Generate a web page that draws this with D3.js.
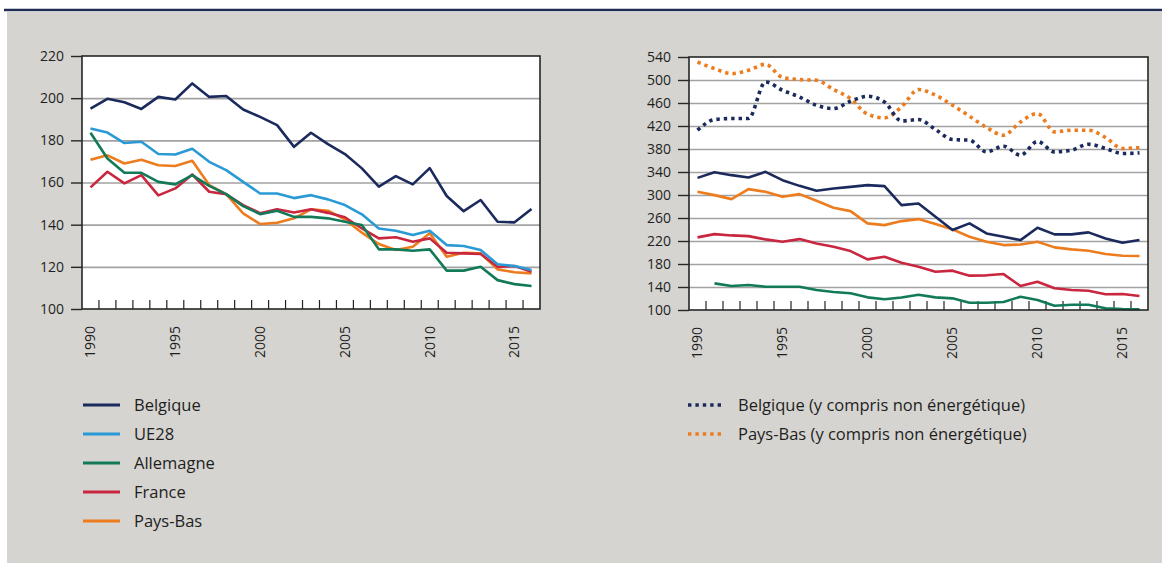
<!DOCTYPE html>
<html>
<head>
<meta charset="utf-8">
<script src="https://cdn.jsdelivr.net/npm/d3@7"></script>
<style>
  body { margin: 0; background: #fff; }
  svg text { font-family: "Open Sans", "Noto Sans", sans-serif; fill: #1e1e1e; }
</style>
</head>
<body>
<svg id="chart" width="1162" height="563"></svg>
<script>
// années 1990 → 2016
const years = [1990,1991,1992,1993,1994,1995,1996,1997,1998,1999,2000,2001,2002,2003,
  2004,2005,2006,2007,2008,2009,2010,2011,2012,2013,2014,2015,2016];
const yearLabels = [1990, 1995, 2000, 2005, 2010, 2015];

// graphique de gauche
const leftTicks = [100, 120, 140, 160, 180, 200, 220];
const belgique = [195,199.7,198.1,194.9,200.6,199.4,207,200.6,201,194.6,191.1,187.2,176.9,183.6,
  178.2,173.5,166.7,158,163,159.1,166.8,153.6,146.4,151.7,141.4,141.1,147.4];
const ue28 = [185.6,183.7,178.7,179.3,173.5,173.3,176,169.8,165.9,160.3,154.8,154.8,152.6,154,
  152,149.3,144.9,138.2,137.1,135.1,137.1,130.3,129.9,128,121.2,120.4,118.5];
const allemagne = [183.6,171.4,164.6,164.6,160.3,159.1,163.5,158.4,154.5,148.8,145,146.6,143.7,143.7,
  143,141.4,139.8,128.3,128.3,127.6,128.3,118.2,118.2,120,113.7,111.8,110.9];
const france = [157.7,165.1,159.6,163.5,153.9,157.2,163.8,155.6,154.4,149.3,145.4,147.3,145.8,147.3,
  145.6,143.5,138.2,133.5,134,131.9,133.5,126.7,126.4,126.1,120,120.4,117.7];
const paysBas = [170.8,172.9,169,170.8,168.2,167.8,170.3,158.8,154.5,145.4,140.3,140.9,143,147.3,
  146.6,142.5,136.2,130.8,128,129.5,135.9,124.8,126.7,126.4,118.8,117.4,116.9];

// graphique de droite
const rightTicks = [100,140,180,220,260,300,340,380,420,460,500,540];
const belgiqueR = [329.8,339.7,334.5,330.5,340.3,325.8,315.9,307.3,311.4,314.2,317.1,315.4,282.4,285.3,
  262.1,239,250.6,233.2,227.3,221.6,243,231.5,231.5,235,224.5,216.9,221.6];
const paysBasR = [305.5,299.8,292.8,310.2,305.5,296.8,301.5,289.9,277.7,272,250.6,247.6,254.6,258.1,
  249.4,240.2,227.4,218.7,212.9,213.8,218.7,208.9,205.4,203,197.3,194.4,193.8];
const franceR = [226.3,232,229.7,228.5,222.8,218.7,223.3,215.8,210,202.5,188.1,192.6,182.2,175.3,
  166.6,168.4,159.7,160.3,162.5,141.7,149.2,137.7,134.7,133.6,127.3,127.8,124.3];
const allemagneR = [null,146.3,141.7,143.4,140.5,140.5,140.5,134.7,131.3,129,122,118.6,121.6,126.6,
  122,120.3,112.7,112.7,113.9,123.1,117.4,107.5,109.2,109.2,102.9,101.7,101.2];
const belgiqueTotal = [412.7,431.2,433,433,496.6,482.1,470.5,456.1,450.3,463,471.7,461.8,428.8,431.2,
  413.9,396.5,395.3,375,384.9,369.2,393.1,375,377.9,388.3,380.9,372.2,373.2];
const paysBasTotal = [531.3,519.8,511.1,516.8,527.3,504.2,500.7,499.5,483.4,467.7,440.5,434.1,453.2,483.4,
  473.5,456.1,437,417.4,404,427.1,441.7,409.8,412.7,412.7,400,380.9,382.6];

const COL = { bel: '#1b2a5c', ue: '#2a9ad6', all: '#127a58', fra: '#c9263f', nl: '#ec7c1e' };

const svg = d3.select('#chart');

// fond : filet bleu en haut + panneau gris
svg.append('line').attr('x1', 4).attr('x2', 1162).attr('y1', 10).attr('y2', 10)
  .attr('stroke', '#1f2d55').attr('stroke-width', 2.5);
svg.append('rect').attr('x', 7).attr('y', 11.5).attr('width', 1155).attr('height', 552)
  .attr('fill', '#d5d4d0');

function panel(o) {
  const g = svg.append('g');
  const x = d3.scaleBand().domain(years).range([o.x0, o.x1]);
  const y = d3.scaleLinear().domain([o.ticks[0], o.ticks[o.ticks.length - 1]]).range([o.y1, o.y0]);
  const cx = d => x(d) + x.bandwidth() / 2;

  g.append('rect').attr('x', o.x0).attr('y', o.y0)
    .attr('width', o.x1 - o.x0).attr('height', o.y1 - o.y0).attr('fill', '#fff');

  // grille
  g.append('g').attr('transform', `translate(${o.x0},0)`)
    .call(d3.axisLeft(y).tickValues(o.ticks.slice(1, -1)).tickSize(-(o.x1 - o.x0)).tickFormat(''))
    .call(a => a.select('.domain').remove())
    .call(a => a.selectAll('line').attr('stroke', '#a2a2a2').attr('stroke-width', 1.6));

  // petits traits verticaux entre les années
  g.append('g').selectAll('line').data(years.slice(1)).join('line')
    .attr('x1', d => x(d)).attr('x2', d => x(d))
    .attr('y1', o.y1).attr('y2', o.y1 - 9)
    .attr('stroke', '#222').attr('stroke-width', 1.2);

  // séries
  o.series.forEach(s => {
    const line = d3.line()
      .defined(d => d != null)
      .x((d, i) => cx(years[i]))
      .y(d => y(d))
      .curve(s.dotted ? d3.curveMonotoneX : d3.curveLinear);
    g.append('path').datum(s.values)
      .attr('fill', 'none').attr('stroke', s.color)
      .attr('stroke-width', s.dotted ? 3.6 : 2.6)
      .attr('stroke-linejoin', 'round')
      .attr('stroke-dasharray', s.dotted ? '3.4,4' : null)
      .attr('d', line);
  });

  // cadre
  g.append('rect').attr('x', o.x0).attr('y', o.y0)
    .attr('width', o.x1 - o.x0).attr('height', o.y1 - o.y0)
    .attr('fill', 'none').attr('stroke', '#262626').attr('stroke-width', 1.6);

  // axe Y
  const ay = g.append('g').attr('transform', `translate(${o.x0},0)`)
    .call(d3.axisLeft(y).tickValues(o.ticks).tickSize(11).tickPadding(7));
  ay.select('.domain').remove();
  ay.selectAll('line').attr('stroke', '#262626').attr('stroke-width', 1.4);
  ay.selectAll('text').attr('font-size', 14).attr('fill', '#1e1e1e');

  // axe X : étiquettes verticales
  const ax = g.append('g').attr('transform', `translate(0,${o.y1})`)
    .call(d3.axisBottom(x).tickValues(yearLabels).tickSize(0).tickFormat(d3.format('d')));
  ax.select('.domain').remove();
  ax.selectAll('text')
    .attr('font-size', 14).attr('fill', '#1e1e1e')
    .attr('transform', 'rotate(-90)')
    .attr('text-anchor', 'end')
    .attr('x', -17).attr('y', 0).attr('dy', '0.35em');

  return g;
}

panel({
  x0: 82, x1: 540, y0: 56, y1: 309, ticks: leftTicks,
  series: [
    { values: paysBas, color: COL.nl },
    { values: france, color: COL.fra },
    { values: allemagne, color: COL.all },
    { values: ue28, color: COL.ue },
    { values: belgique, color: COL.bel }
  ]
});

panel({
  x0: 689, x1: 1148, y0: 57, y1: 310, ticks: rightTicks,
  series: [
    { values: allemagneR, color: COL.all },
    { values: franceR, color: COL.fra },
    { values: paysBasR, color: COL.nl },
    { values: belgiqueR, color: COL.bel },
    { values: paysBasTotal, color: COL.nl, dotted: true },
    { values: belgiqueTotal, color: COL.bel, dotted: true }
  ]
});

// légendes
const legendLeft = [
  { label: 'Belgique', color: COL.bel },
  { label: 'UE28', color: COL.ue },
  { label: 'Allemagne', color: COL.all },
  { label: 'France', color: COL.fra },
  { label: 'Pays-Bas', color: COL.nl }
];
const legendRight = [
  { label: 'Belgique (y compris non énergétique)', color: COL.bel },
  { label: 'Pays-Bas (y compris non énergétique)', color: COL.nl }
];

const lgL = svg.append('g').selectAll('g').data(legendLeft).join('g')
  .attr('transform', (d, i) => `translate(83,${405 + i * 29})`);
lgL.append('line').attr('x1', 0).attr('x2', 37)
  .attr('stroke', d => d.color).attr('stroke-width', 2.8);
lgL.append('text').attr('x', 51).attr('dy', '0.35em').attr('font-size', 16.5).text(d => d.label);

const lgR = svg.append('g').selectAll('g').data(legendRight).join('g')
  .attr('transform', (d, i) => `translate(688,${405 + i * 29})`);
lgR.append('line').attr('x1', 0).attr('x2', 35)
  .attr('stroke', d => d.color).attr('stroke-width', 3.6).attr('stroke-dasharray', '3.4,4');
lgR.append('text').attr('x', 50).attr('dy', '0.35em').attr('font-size', 16.5).text(d => d.label);
</script>
</body>
</html>
